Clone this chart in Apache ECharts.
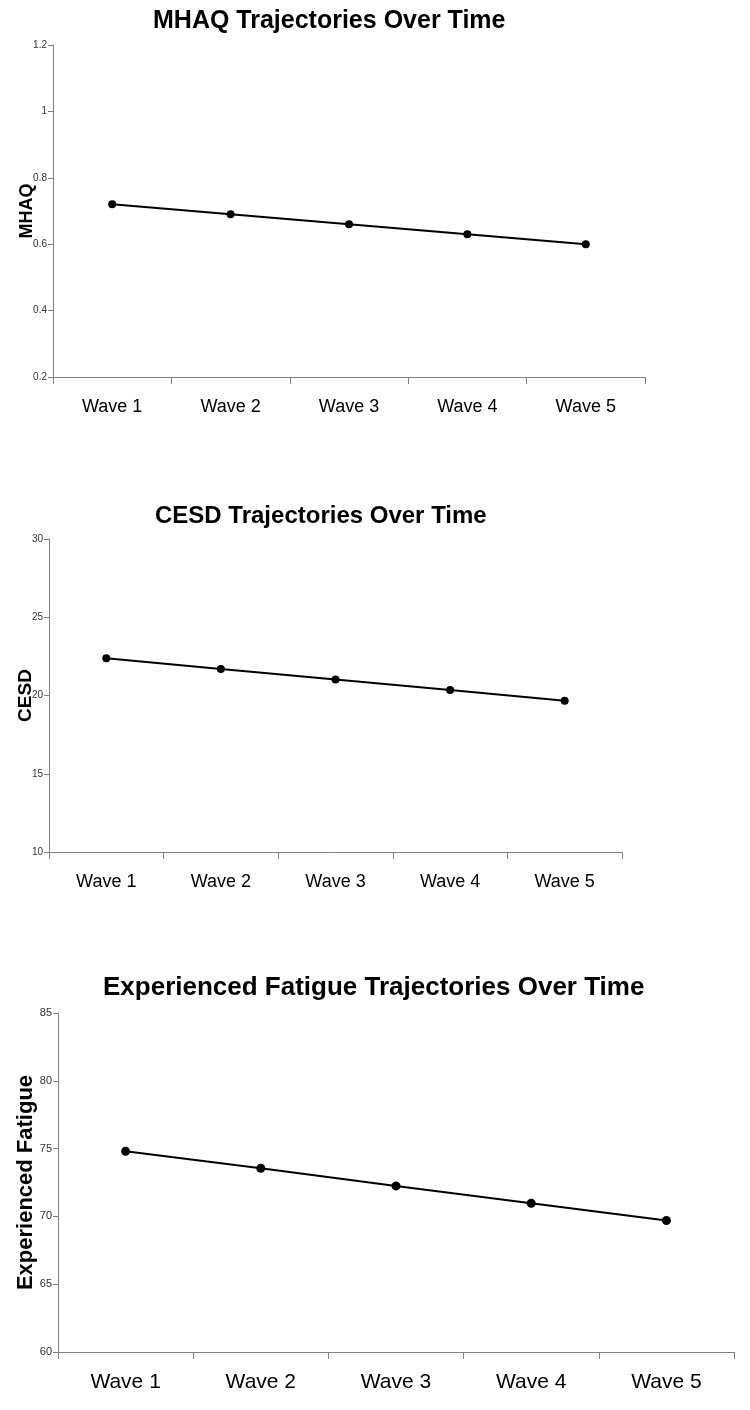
<!DOCTYPE html>
<html>
<head>
<meta charset="utf-8">
<script src="https://cdn.jsdelivr.net/npm/echarts@6/dist/echarts.min.js"></script>
<style>
html,body{margin:0;padding:0;background:#fff;}
#chart{width:750px;height:1410px;}
</style>
</head>
<body>
<div id="chart"></div>
<script>
const waves = ['Wave 1', 'Wave 2', 'Wave 3', 'Wave 4', 'Wave 5'];
const mhaqValues = [0.72, 0.69, 0.66, 0.63, 0.60];
const cesdValues = [22.38, 21.7, 21.02, 20.35, 19.67];
const fatigueValues = [74.8, 73.55, 72.25, 70.97, 69.7];
const titles = ['MHAQ Trajectories Over Time', 'CESD Trajectories Over Time', 'Experienced Fatigue Trajectories Over Time'];
const yNames = ['MHAQ', 'CESD', 'Experienced Fatigue'];

const FONT = '"Liberation Sans", Arial, sans-serif';
const panels = [
  {grid:{left:53, top:45, width:592, height:332}, y:{min:0.2,max:1.2,interval:0.2}, title:{left:153, top:9, size:25}, labelSize:10, nameSize:18, nameGap:17, xSize:18, xMargin:21, sym:8, data:mhaqValues},
  {grid:{left:49, top:539, width:573, height:313}, y:{min:10,max:30,interval:5}, title:{left:155, top:504, size:24}, labelSize:10, nameSize:19, nameGap:14, xSize:18, xMargin:21, sym:8, data:cesdValues},
  {grid:{left:58, top:1013, width:676, height:339}, y:{min:60,max:85,interval:5}, title:{left:103, top:975, size:26}, labelSize:11, nameSize:22, nameGap:21, xSize:21, xMargin:20, sym:9, data:fatigueValues}
];

const option = {
  backgroundColor:'#fff',
  animation:false,
  title: panels.map((p,i)=>({text:titles[i], left:p.title.left, top:p.title.top, padding:0,
    textStyle:{fontFamily:FONT, fontWeight:'bold', fontSize:p.title.size, color:'#000'}})),
  grid: panels.map(p=>Object.assign({containLabel:false, outerBoundsMode:'none'}, p.grid)),
  xAxis: panels.map((p,i)=>({type:'category', gridIndex:i, data:waves, boundaryGap:true,
    axisLine:{lineStyle:{color:'#808080', width:1}},
    axisTick:{show:true, length:7, inside:false, lineStyle:{color:'#808080'}},
    axisLabel:{fontFamily:FONT, fontSize:p.xSize, color:'#000', margin:p.xMargin},
    splitLine:{show:false}})),
  yAxis: panels.map((p,i)=>({type:'value', gridIndex:i, min:p.y.min, max:p.y.max, interval:p.y.interval,
    name:yNames[i], nameLocation:'middle', nameRotate:90, nameGap:p.nameGap, nameMoveOverlap:false,
    nameTextStyle:{fontFamily:FONT, fontWeight:'bold', fontSize:p.nameSize, color:'#000'},
    axisLine:{show:true, lineStyle:{color:'#808080', width:1}},
    axisTick:{show:true, length:5, lineStyle:{color:'#808080'}},
    axisLabel:{fontFamily:FONT, fontSize:p.labelSize, color:'#333', margin:6},
    splitLine:{show:false}})),
  series: panels.map((p,i)=>({type:'line', xAxisIndex:i, yAxisIndex:i, data:p.data,
    symbol:'circle', symbolSize:p.sym, lineStyle:{color:'#000', width:2},
    itemStyle:{color:'#000'}}))
};
const chart = echarts.init(document.getElementById('chart'), null, {renderer:'canvas'});
chart.setOption(option);
</script>
</body>
</html>
